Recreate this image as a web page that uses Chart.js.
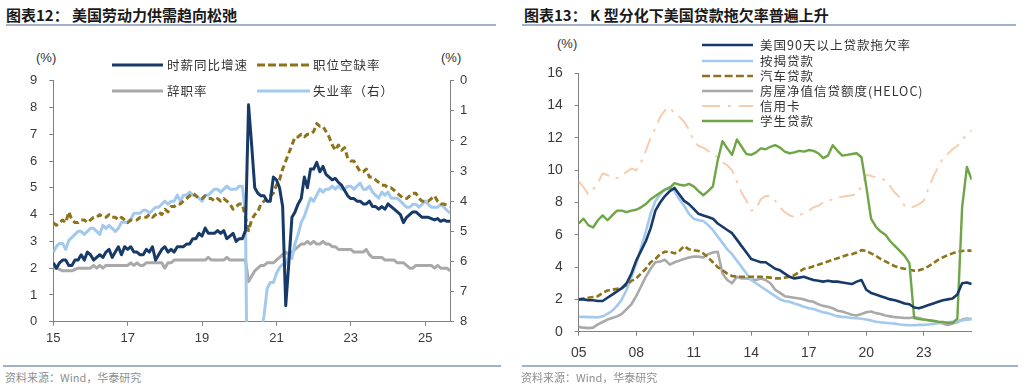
<!DOCTYPE html>
<html><head><meta charset="utf-8">
<script src="https://cdn.jsdelivr.net/npm/chart.js@4.4.1/dist/chart.umd.min.js"></script>
<style>
html,body{margin:0;padding:0;background:#fff;}
body{width:1024px;height:385px;position:relative;overflow:hidden;font-family:"Noto Sans CJK SC","Noto Sans",sans-serif;}
.abs{position:absolute;white-space:nowrap;}
.title{font-size:15px;font-weight:700;color:#1a1a1a;line-height:18px;}
.rule{position:absolute;height:2px;background:#a3b1c8;}
.src{font-size:11px;color:#8f8f8f;line-height:14px;}
.unit{font-family:"Liberation Sans",Arial,sans-serif;font-size:13px;color:#333;line-height:16px;}
.lg{font-size:12.5px;color:#333;letter-spacing:1px;line-height:16px;}
canvas{position:absolute;}
</style></head>
<body>
<div class="abs title" style="left:6px;top:6px;">图表12：&nbsp;美国劳动力供需趋向松弛</div>
<div class="rule" style="left:6px;top:24px;width:490px;"></div>
<div class="abs title" style="left:524px;top:6px;">图表13：&nbsp;K 型分化下美国贷款拖欠率普遍上升</div>
<div class="rule" style="left:522px;top:24px;width:494px;"></div>
<div class="abs unit" style="left:36px;top:50px;">(%)</div>
<div class="abs unit" style="left:441px;top:50px;">(%)</div>
<div class="abs unit" style="left:557px;top:36px;">(%)</div>
<canvas id="c1" width="500" height="320" style="left:0;top:40px;"></canvas>
<canvas id="c2" width="512" height="340" style="left:512px;top:30px;"></canvas>
<div class="rule" style="left:3px;top:365px;width:498px;height:1.5px;"></div>
<div class="rule" style="left:522px;top:365px;width:496px;height:1.5px;"></div>
<div class="abs src" style="left:5px;top:370px;">资料来源：Wind，华泰研究</div>
<div class="abs src" style="left:521px;top:370px;">资料来源：Wind，华泰研究</div>
<div id="legends"></div>
<script>
// ---------------- Chart 12 data (monthly, Jan 2015 - Sep 2025) ----------------
const laborStartYear = 2015;
const leftXTickLabels = ['15','17','19','21','23','25'];
const leftYTicks = [0,1,2,3,4,5,6,7,8,9];
const wageGrowth = [
2.2,2.0,2.2,2.3,2.3,2.1,2.1,2.3,2.3,2.5,2.3,2.6,
2.5,2.3,2.4,2.5,2.4,2.6,2.7,2.4,2.6,2.8,2.5,2.8,
2.7,2.8,2.6,2.6,2.5,2.5,2.7,2.6,2.8,2.3,2.5,2.7,
2.8,2.6,2.7,2.6,2.8,2.8,2.8,2.9,2.9,3.1,3.1,3.3,
3.2,3.5,3.3,3.3,3.3,3.4,3.3,3.4,3.1,3.2,3.3,3.0,
3.1,3.1,3.4,8.1,6.6,5.0,4.8,4.7,4.7,4.5,4.5,5.4,
5.3,5.0,4.3,0.6,2.2,3.9,4.1,4.4,4.6,5.4,5.0,5.7,
5.7,5.95,5.6,5.8,5.5,5.4,5.3,5.35,5.2,5.1,4.9,4.7,
4.6,4.6,4.5,4.5,4.4,4.4,4.5,4.3,4.3,4.2,4.3,4.2,
4.4,4.3,4.2,4.1,4.0,3.7,3.9,4.0,4.1,4.1,4.0,3.9,
3.9,3.9,3.85,3.8,3.85,3.75,3.8,3.75,3.75];
const jobOpenings = [
3.7,3.6,3.7,3.8,3.7,4.1,3.8,3.7,3.7,3.8,3.8,3.7,
3.8,3.9,3.9,4.0,3.9,3.9,4.0,3.9,3.9,3.8,3.9,3.8,
3.7,3.8,3.8,3.8,3.9,3.9,3.9,4.0,3.9,4.0,4.1,4.0,
4.2,4.1,4.3,4.3,4.4,4.4,4.5,4.6,4.7,4.8,4.7,4.6,
4.6,4.7,4.6,4.6,4.5,4.6,4.5,4.6,4.5,4.4,4.2,4.3,
4.4,4.4,3.9,3.4,3.8,4.0,4.1,4.4,4.5,4.6,4.7,4.8,
5.1,5.3,5.7,6.0,6.3,6.6,6.9,6.9,7.0,6.9,7.0,7.0,
7.1,7.4,7.3,7.3,7.1,6.9,6.6,6.4,6.6,6.4,6.5,6.1,
6.0,6.0,5.8,5.6,5.6,5.7,5.4,5.4,5.3,5.2,5.1,5.1,
5.0,5.0,4.9,4.8,4.7,4.6,4.6,4.7,4.8,4.8,4.6,4.5,
4.5,4.5,4.6,4.7,4.5,4.4,4.4,4.35,4.3];
const quitsRate = [
2.0,2.0,1.95,1.9,1.9,1.9,1.9,1.95,2.0,2.0,2.0,2.0,
2.0,2.1,2.0,2.1,2.0,2.1,2.1,2.1,2.1,2.1,2.1,2.1,
2.1,2.2,2.1,2.2,2.1,2.1,2.2,2.2,2.2,2.2,2.2,2.2,
2.0,2.2,2.2,2.3,2.3,2.3,2.3,2.3,2.3,2.3,2.3,2.3,
2.3,2.3,2.4,2.3,2.3,2.3,2.3,2.3,2.4,2.3,2.3,2.3,
2.3,2.3,2.3,1.5,1.7,1.9,2.0,2.1,2.1,2.2,2.2,2.2,
2.3,2.4,2.5,2.6,2.5,2.6,2.7,2.8,2.9,2.9,3.0,2.9,
3.0,2.9,2.9,3.0,2.9,2.9,2.8,2.8,2.7,2.7,2.7,2.7,
2.7,2.6,2.6,2.6,2.6,2.7,2.5,2.4,2.4,2.4,2.4,2.3,
2.3,2.3,2.3,2.2,2.2,2.2,2.1,2.0,2.0,2.1,2.1,2.1,
2.1,2.1,2.1,2.0,2.1,2.0,2.0,2.0,1.9];
const unemploymentRate = [
5.7,5.5,5.4,5.4,5.6,5.3,5.2,5.1,5.0,5.0,5.1,5.0,
4.9,4.9,5.0,5.1,4.8,4.9,4.8,4.9,5.0,4.9,4.7,4.7,
4.7,4.6,4.4,4.4,4.4,4.3,4.3,4.4,4.3,4.2,4.2,4.1,
4.0,4.1,4.0,4.0,3.8,4.0,3.8,3.8,3.7,3.8,3.8,3.9,
4.0,3.8,3.8,3.7,3.6,3.6,3.7,3.6,3.5,3.6,3.6,3.6,
3.5,3.5,4.4,14.8,13.2,11.0,10.2,8.4,7.8,6.9,6.7,6.7,
6.4,6.2,6.1,6.1,5.8,5.9,5.4,5.1,4.7,4.5,4.2,3.9,
4.0,3.8,3.6,3.7,3.6,3.6,3.5,3.6,3.5,3.6,3.6,3.5,
3.5,3.6,3.5,3.4,3.6,3.6,3.5,3.7,3.8,3.9,3.7,3.8,
3.7,3.9,3.9,3.9,4.0,4.1,4.2,4.2,4.1,4.1,4.2,4.1,
4.0,4.1,4.2,4.2,4.2,4.1,4.2,4.3,4.4];

// ---------------- Chart 13 data (quarterly, 2005Q1 - 2025Q3) ----------------
const loanStartYear = 2005;
const rightXTickLabels = ['05','08','11','14','17','20','23'];
const totalDelinq = [
2.0,2.0,1.95,1.95, 1.9,1.9,2.1,2.3, 2.5,2.7,3.0,3.6, 4.4,5.0,5.6,6.4,
7.5,8.0,8.4,8.7, 8.9,8.5,8.1,7.9, 7.6,7.3,7.2,7.1, 7.0,6.7,6.5,6.3,
6.1,5.7,5.3,4.9, 4.5,4.4,4.3,4.3, 4.1,3.9,3.8,3.6, 3.4,3.3,3.35,3.4,
3.3,3.2,3.15,3.1, 3.15,3.1,3.1,3.05, 3.0,2.95,3.1,3.2, 2.6,2.4,2.3,2.2,
2.1,2.0,1.95,1.85, 1.75,1.7,1.5,1.45, 1.55,1.65,1.75,1.85, 1.95,2.0,2.05,2.3,
3.0,3.05,2.95];
const mortgage = [
0.93,0.92,0.9,0.9, 0.89,0.95,1.1,1.3, 1.6,2.0,2.6,3.4, 4.2,5.2,6.2,7.3,
8.1,8.5,8.8,8.95, 8.7,8.2,7.8,7.3, 7.0,6.9,6.85,6.6, 6.3,5.9,5.5,5.1,
4.8,4.4,4.0,3.6, 3.2,3.0,2.8,2.6, 2.4,2.2,2.0,1.9, 1.85,1.75,1.65,1.55,
1.45,1.4,1.3,1.2, 1.15,1.05,0.95,0.92, 0.9,0.85,0.83,0.8, 0.75,0.7,0.62,0.58,
0.55,0.52,0.5,0.45, 0.42,0.4,0.4,0.42, 0.42,0.45,0.48,0.52, 0.55,0.58,0.62,0.65,
0.7,0.75,0.78];
const autoLoan = [
2.0,2.05,2.1,2.15, 2.2,2.4,2.55,2.6, 2.65,2.7,2.9,3.15, 3.3,3.6,3.9,4.3,
4.5,4.8,4.95,4.95, 4.85,5.0,5.3,5.1, 5.05,5.0,4.85,4.6, 4.3,4.0,3.8,3.6,
3.45,3.4,3.4,3.4, 3.4,3.4,3.4,3.38, 3.35,3.3,3.3,3.35, 3.4,3.5,3.7,3.9,
3.95,4.05,4.15,4.25, 4.35,4.45,4.55,4.65, 4.75,4.8,4.9,5.05, 5.0,4.85,4.7,4.5,
4.35,4.2,4.05,3.95, 3.9,3.85,3.78,3.8, 3.9,4.05,4.25,4.45, 4.6,4.75,4.85,4.95,
5.0,5.02,5.02];
const heloc = [
0.3,0.25,0.22,0.25, 0.45,0.6,0.75,0.85, 0.95,1.1,1.4,1.7, 2.2,2.8,3.4,3.9,
4.3,4.35,4.45,4.15, 4.3,4.4,4.5,4.6, 4.65,4.65,4.6,4.8, 4.9,4.95,3.6,3.2,
3.0,3.4,3.3,3.3, 3.25,3.2,3.3,3.2, 3.0,2.6,2.4,2.2, 2.15,2.1,2.05,2.0,
1.9,1.85,1.7,1.6, 1.55,1.45,1.3,1.25, 1.15,1.05,1.0,1.1, 1.2,1.25,1.15,1.1,
1.0,0.95,0.9,0.88, 0.85,0.85,0.9,0.85, 0.75,0.7,0.65,0.6, 0.5,0.42,0.5,0.6,
0.75,0.82,0.78];
const creditCard = [
9.3,8.95,8.5,8.8, 9.2,9.8,9.7,9.5, 9.5,9.7,9.9,10.1, 10.0,10.5,11.2,12.0,
12.6,13.3,13.7,13.9, 13.5,13.3,13.0,12.5, 11.8,11.5,11.4,11.2, 11.0,10.8,10.5,10.3,
10.0,9.3,8.6,8.1, 7.5,7.6,8.2,8.4, 8.4,8.1,7.7,7.4, 7.2,7.1,7.2,7.35,
7.5,7.7,7.8,8.0, 8.1,8.2,8.3,8.35, 8.4,8.45,8.5,9.0, 9.7,9.65,9.55,9.45,
9.4,9.0,8.6,8.3, 7.8,7.7,7.75,7.9, 8.1,8.9,9.6,10.2, 10.75,11.0,11.3,11.5,
11.9,12.2,12.45];
const studentLoan = [
6.7,7.0,6.6,6.45, 6.9,7.2,6.9,7.2, 7.5,7.5,7.4,7.5, 7.55,7.7,7.9,8.2,
8.4,8.6,8.8,8.9, 9.2,9.1,9.05,9.15, 9.0,8.7,8.45,8.7, 9.0,10.6,11.8,11.35,
10.95,11.9,11.45,11.0, 10.95,11.1,11.35,11.3, 11.45,11.55,11.4,11.15, 11.05,11.1,11.2,11.15,
11.25,11.2,11.05,10.75, 10.9,11.55,11.2,10.9, 10.95,11.0,11.05,10.8, 9.0,7.0,6.5,6.2,
6.0,5.6,5.3,5.0, 4.7,4.25,0.85,0.78, 0.75,0.72,0.68,0.62, 0.6,0.55,0.55,0.8,
7.7,10.2,9.4];

// ---------------- helpers ----------------
const toXY = (arr, perYear) => arr.map((v, i) => ({x: i / perYear, y: v}));
const C = {navy:'#173a68', gold:'#8d741a', gray:'#a9a9a9', light:'#a3c9ee', peach:'#f7cdb0', green:'#6ea546'};
const tickFontL = {family:'"Liberation Sans", Arial, sans-serif', size:13};
const tickFontR = {family:'"Liberation Sans Narrow", "Arial Narrow", "Liberation Sans", Arial, sans-serif', size:14};
const axisCol = '#808080';

function lineDs(label, data, color, width, dash, axis) {
  return {label, data, borderColor: color, backgroundColor: color, borderWidth: width,
    borderDash: dash || [], pointRadius: 0, pointHoverRadius: 0, tension: 0,
    borderJoinStyle: 'round', fill: false, yAxisID: axis || 'y'};
}

// ---------------- Chart 12 ----------------
const lastL = (wageGrowth.length - 1) / 12;
new Chart(document.getElementById('c1'), {
  type: 'line',
  data: { datasets: [
    lineDs('时薪同比增速', toXY(wageGrowth, 12), C.navy, 3),
    lineDs('职位空缺率', toXY(jobOpenings, 12), C.gold, 3, [6, 3.5]),
    lineDs('失业率（右）', toXY(unemploymentRate, 12), C.light, 3, null, 'y2'),
    lineDs('辞职率', toXY(quitsRate, 12), C.gray, 3)
  ]},
  options: {
    responsive: false, animation: false, devicePixelRatio: 1,
    layout: {padding: {top: 40.7, left: 0, right: 0, bottom: 0}},
    plugins: {legend: {display: false}, tooltip: {enabled: false}},
    scales: {
      x: {type: 'linear', min: 0, max: lastL,
        border: {color: axisCol, width: 1},
        grid: {drawOnChartArea: false, drawTicks: true, tickLength: 4, color: axisCol},
        ticks: {stepSize: 2, includeBounds: false, autoSkip: false, maxRotation: 0, padding: 5,
          font: tickFontL, color: '#3a3a3a',
          callback: v => (Math.abs(v / 2 - Math.round(v / 2)) < 1e-6 ? leftXTickLabels[Math.round(v / 2)] : '')},
        afterFit: s => { s.height = 38.3; }},
      y: {position: 'left', min: 0, max: 9,
        border: {color: axisCol, width: 1},
        grid: {drawOnChartArea: false, drawTicks: true, tickLength: 4, color: axisCol},
        ticks: {stepSize: 1, padding: 12, font: tickFontL, color: '#3a3a3a',
          callback: v => leftYTicks.includes(v) ? String(v) : ''},
        afterFit: s => { s.width = 53.3; }},
      y2: {position: 'right', min: 0, max: 8, reverse: true,
        border: {color: axisCol, width: 1},
        grid: {drawOnChartArea: false, drawTicks: true, tickLength: 4, color: axisCol},
        ticks: {stepSize: 1, padding: 6, font: tickFontL, color: '#3a3a3a'},
        afterFit: s => { s.width = 50; }}
    }
  }
});

// ---------------- Chart 13 ----------------
const lastR = (totalDelinq.length - 1) / 4;
new Chart(document.getElementById('c2'), {
  type: 'line',
  data: { datasets: [
    lineDs('美国90天以上贷款拖欠率', toXY(totalDelinq, 4), C.navy, 2.6),
    lineDs('学生贷款', toXY(studentLoan, 4), C.green, 2.4),
    lineDs('汽车贷款', toXY(autoLoan, 4), C.gold, 2.6, [6, 3]),
    lineDs('按揭贷款', toXY(mortgage, 4), C.light, 2.6),
    lineDs('房屋净值信贷额度(HELOC)', toXY(heloc, 4), C.gray, 2.6),
    lineDs('信用卡', toXY(creditCard, 4), C.peach, 2, [16, 7, 3, 7])
  ]},
  options: {
    responsive: false, animation: false, devicePixelRatio: 1,
    layout: {padding: {top: 43.3, left: 0, right: 52.3, bottom: 0}},
    plugins: {legend: {display: false}, tooltip: {enabled: false}},
    scales: {
      x: {type: 'linear', min: 0, max: lastR,
        border: {color: axisCol, width: 1},
        grid: {drawOnChartArea: false, drawTicks: true, tickLength: 4, color: axisCol},
        ticks: {stepSize: 3, includeBounds: false, autoSkip: false, maxRotation: 0, padding: 9,
          font: tickFontR, color: '#3a3a3a',
          callback: v => (Math.abs(v / 3 - Math.round(v / 3)) < 1e-6 ? rightXTickLabels[Math.round(v / 3)] : '')},
        afterFit: s => { s.height = 38.3; }},
      y: {position: 'left', min: 0, max: 16,
        border: {color: axisCol, width: 1},
        grid: {drawOnChartArea: false, drawTicks: true, tickLength: 4, color: axisCol},
        ticks: {stepSize: 2, padding: 12, font: tickFontR, color: '#3a3a3a'},
        afterFit: s => { s.width = 66.7; }}
    }
  }
});

// ---------------- HTML legends ----------------
const legendItems = [
  {t:'时薪同比增速', c:C.navy, w:3, d:'', x1:112, x2:163, y:65, tx:167},
  {t:'职位空缺率', c:C.gold, w:3, d:'8 3', x1:257, x2:310, y:65, tx:313},
  {t:'辞职率', c:C.gray, w:3, d:'', x1:112, x2:163, y:91, tx:167},
  {t:'失业率（右）', c:C.light, w:3, d:'', x1:257, x2:310, y:91, tx:313},
  {t:'美国90天以上贷款拖欠率', c:C.navy, w:2.6, d:'', x1:702, x2:753, y:45, tx:760},
  {t:'按揭贷款', c:C.light, w:2.6, d:'', x1:702, x2:753, y:60.5, tx:760},
  {t:'汽车贷款', c:C.gold, w:2.6, d:'8 3.3', x1:702, x2:753, y:75.5, tx:760},
  {t:'房屋净值信贷额度(HELOC)', c:C.gray, w:2.6, d:'', x1:702, x2:753, y:91, tx:760},
  {t:'信用卡', c:C.peach, w:2, d:'18 8 3 8', x1:702, x2:753, y:106, tx:760},
  {t:'学生贷款', c:C.green, w:2.6, d:'', x1:702, x2:753, y:121, tx:760}
];
const lg = document.getElementById('legends');
legendItems.forEach(it => {
  const w = it.x2 - it.x1;
  lg.insertAdjacentHTML('beforeend',
    `<svg class="abs" style="left:${it.x1}px;top:${it.y - 4}px" width="${w}" height="8">` +
    `<line x1="0" y1="4" x2="${w}" y2="4" stroke="${it.c}" stroke-width="${it.w}" ${it.d ? `stroke-dasharray="${it.d}"` : ''}/></svg>` +
    `<div class="abs lg" style="left:${it.tx}px;top:${it.y - 8}px">${it.t}</div>`);
});
</script>
</body></html>
